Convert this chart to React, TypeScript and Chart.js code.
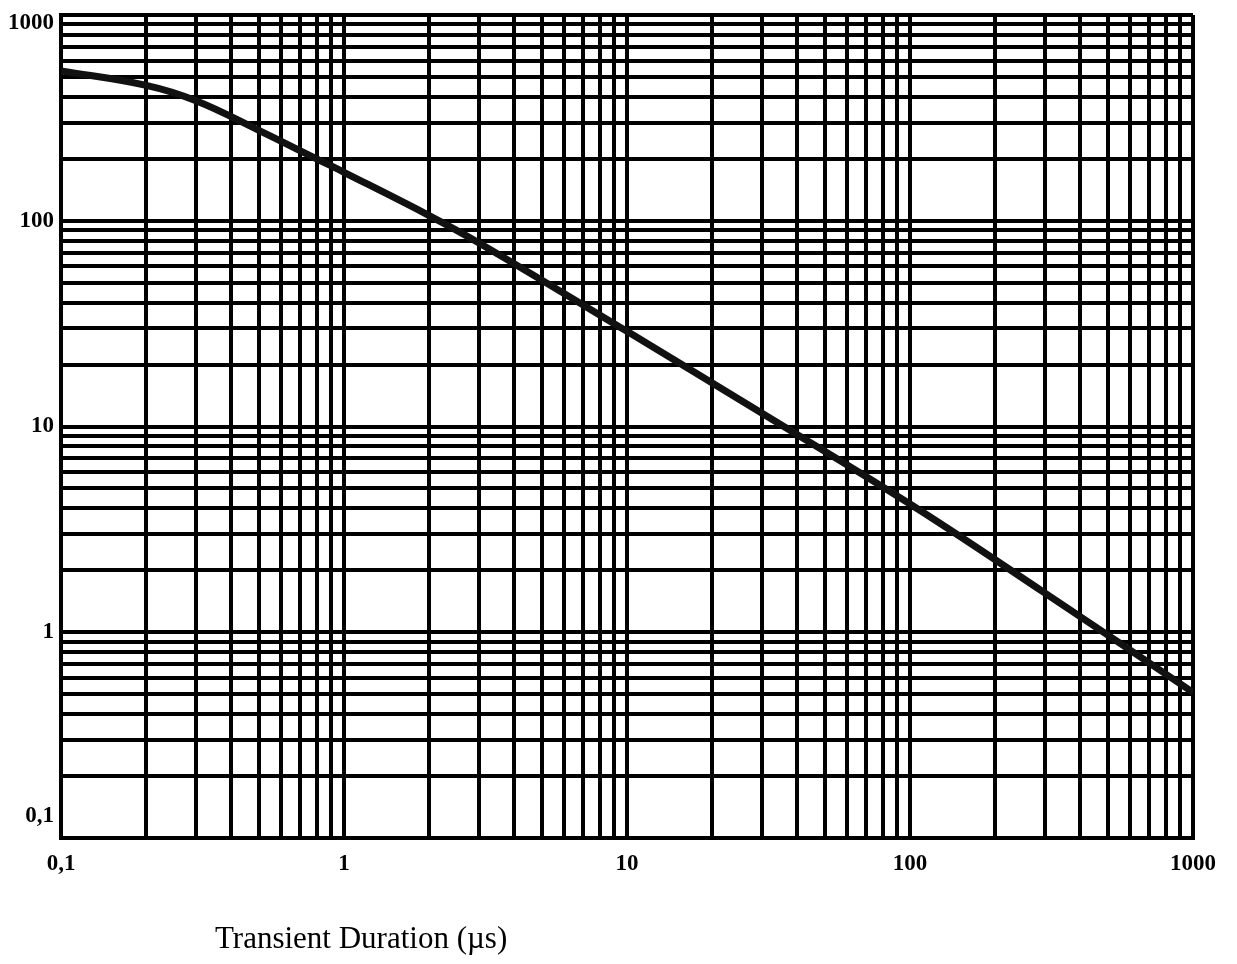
import React, { useEffect, useRef } from "react";
import { Chart, registerables } from "chart.js";

Chart.register(...registerables);

// Curve: transient duration (µs) vs. level
const durations = [0.1, 0.2, 0.3, 0.5, 0.8, 1, 2, 3, 10, 30, 100, 300, 1000];
const levels = [535, 455, 383, 275, 200, 172, 106, 78, 29, 11.6, 4.2, 1.55, 0.51];

// Grid / tick values
const decades = [0.1, 1, 10, 100];
const multipliers = [1, 2, 3, 4, 5, 6, 7, 8, 9];
const axisMax = 1000;
const tickValues = [0.1, 1, 10, 100, 1000];
const tickLabels = ["0,1", "1", "10", "100", "1000"];
const xTitle = "Transient Duration (µs)";

const FONT = "'Liberation Serif', 'DejaVu Serif', serif";

function gridValues(): number[] {
  const out: number[] = [];
  decades.forEach((d) => multipliers.forEach((m) => out.push(parseFloat((d * m).toPrecision(6)))));
  out.push(axisMax);
  return out;
}

function labelFor(v: number): string {
  const i = tickValues.findIndex((t) => Math.abs(t - v) / t < 1e-6);
  return i >= 0 ? tickLabels[i] : "";
}

const overlayPlugin = {
  id: "overlay",
  afterDraw(chart: any) {
    const ctx = chart.ctx;
    const y = chart.scales.y;
    const area = chart.chartArea;
    ctx.save();
    ctx.fillStyle = "#000";
    ctx.font = `bold 23px ${FONT}`;
    ctx.textAlign = "right";
    tickValues.forEach((v, i) => {
      const py = y.getPixelForValue(v);
      let base: CanvasTextBaseline = "middle";
      let yy = py;
      if (i === 0) {
        base = "bottom";
        yy = py - 10;
      } else if (i === tickValues.length - 1) {
        base = "top";
        yy = py - 3;
      }
      ctx.textBaseline = base;
      ctx.fillText(tickLabels[i], area.left - 7, yy);
    });
    ctx.font = `31px ${FONT}`;
    ctx.textAlign = "left";
    ctx.textBaseline = "alphabetic";
    ctx.fillText(xTitle, area.left + 154, 948);
    ctx.restore();
  },
};

export default function App() {
  const ref = useRef<HTMLCanvasElement | null>(null);
  useEffect(() => {
    if (!ref.current) return;
    const grid = gridValues();
    const chart = new Chart(ref.current, {
      type: "line",
      data: {
        datasets: [
          {
            data: durations.map((d, i) => ({ x: d, y: levels[i] })),
            borderColor: "#111",
            borderWidth: 7,
            pointRadius: 0,
            tension: 0.4,
            fill: false,
          },
        ],
      },
      options: {
        responsive: false,
        animation: false,
        devicePixelRatio: 1,
        layout: { padding: { top: 15, right: 44, left: 0, bottom: 0 } },
        plugins: { legend: { display: false }, tooltip: { enabled: false }, title: { display: false } },
        scales: {
          x: {
            type: "logarithmic",
            min: 0.1,
            max: axisMax,
            afterBuildTicks: (s: any) => {
              s.ticks = grid.map((v) => ({ value: v }));
            },
            afterFit: (s: any) => {
              s.height = 126;
            },
            grid: { color: "#000", lineWidth: 4, drawTicks: false },
            border: { display: true, color: "#000", width: 4 },
            ticks: {
              autoSkip: false,
              maxRotation: 0,
              padding: 12,
              color: "#000",
              font: { family: FONT, size: 23, weight: "bold" },
              callback: (v: any) => labelFor(Number(v)),
            },
          },
          y: {
            type: "logarithmic",
            min: 0.1,
            max: axisMax,
            afterBuildTicks: (s: any) => {
              s.ticks = grid.map((v) => ({ value: v }));
            },
            afterFit: (s: any) => {
              s.width = 61;
            },
            grid: { color: "#000", lineWidth: 4, drawTicks: false },
            border: { display: true, color: "#000", width: 4 },
            ticks: { display: false },
          },
        },
      } as any,
      plugins: [overlayPlugin],
    });
    return () => chart.destroy();
  }, []);
  return (
    <div style={{ position: "absolute", left: 0, top: 0, width: 1237, height: 964, background: "#fff" }}>
      <canvas ref={ref} width={1237} height={964} style={{ display: "block" }} />
    </div>
  );
}
